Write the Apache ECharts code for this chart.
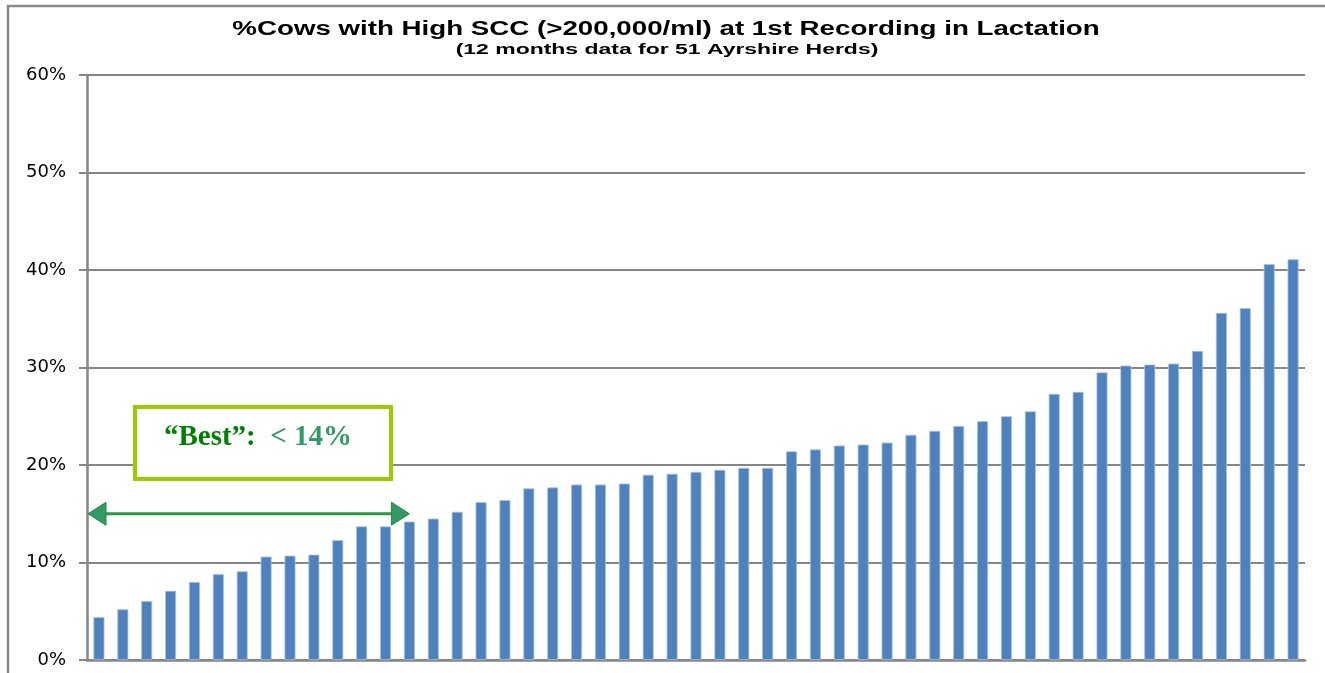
<!DOCTYPE html>
<html>
<head>
<meta charset="utf-8">
<script src="https://cdn.jsdelivr.net/npm/echarts@6/dist/echarts.min.js"></script>
<style>
html,body{margin:0;padding:0;background:#fff;}
#chart{width:1325px;height:673px;}
</style>
</head>
<body>
<div id="chart"></div>
<script>
// ---- data ----
const titleText = '%Cows with High SCC (>200,000/ml) at 1st Recording in Lactation';
const subtitleText = '(12 months data for 51 Ayrshire Herds)';
const herds = Array.from({length: 51}, (_, i) => 'Herd ' + (i + 1));
const highSccPct = [
  4.4, 5.2, 6.05, 7.1, 8.0, 8.8, 9.1, 10.6, 10.7, 10.8,
  12.3, 13.7, 13.7, 14.2, 14.5, 15.2, 16.2, 16.4, 17.6, 17.7,
  18.0, 18.0, 18.1, 19.0, 19.1, 19.3, 19.5, 19.7, 19.7, 21.4,
  21.6, 22.0, 22.1, 22.3, 23.1, 23.5, 24.0, 24.5, 25.0, 25.5,
  27.3, 27.5, 29.5, 30.2, 30.3, 30.4, 31.7, 35.6, 36.1, 40.6,
  41.1
];
const yTicks = [0, 10, 20, 30, 40, 50, 60];
const bestThreshold = 14;
const arrowLevel = 15;
const arrowEndIndex = 13;

const chart = echarts.init(document.getElementById('chart'));
const gridColor = '#868686';

chart.setOption({
  animation: false,
  backgroundColor: '#fff',
  grid: {left: 87, right: 20, top: 75, bottom: 13, containLabel: false},
  xAxis: {
    type: 'category',
    data: herds,
    axisLabel: {show: false},
    axisTick: {show: false},
    axisLine: {lineStyle: {color: gridColor, width: 2.5}}
  },
  yAxis: {
    type: 'value',
    min: yTicks[0],
    max: yTicks[yTicks.length - 1],
    interval: 10,
    axisLine: {show: true, lineStyle: {color: gridColor, width: 2.5}},
    axisTick: {show: true, length: 8, lineStyle: {color: gridColor, width: 2}},
    splitLine: {lineStyle: {color: gridColor, width: 2}},
    axisLabel: {
      formatter: '{value}%',
      margin: 21,
      color: '#000',
      fontFamily: 'DejaVu Sans',
      fontSize: 18
    }
  },
  series: [{
    type: 'bar',
    data: highSccPct,
    barWidth: 11,
    itemStyle: {color: '#4F81BD', borderColor: '#A9C1E0', borderWidth: 0.8}
  }]
});

const yA = chart.convertToPixel({yAxisIndex: 0}, arrowLevel);
const xEnd = chart.convertToPixel({xAxisIndex: 0}, herds[arrowEndIndex]);
const xStart = 88;
const headL = 18, headH = 11.5;

chart.setOption({
  graphic: [
    {type: 'rect', z: -1, silent: true,
     shape: {x: 8, y: 6, width: 1400, height: 800},
     style: {fill: 'none', stroke: '#8a8a8a', lineWidth: 2.5}},
    {type: 'text', x: 666, y: 29, scaleX: 1.385, silent: true,
     style: {text: titleText, font: 'bold 20px "Liberation Sans"', fill: '#000',
             align: 'center', verticalAlign: 'middle'}},
    {type: 'text', x: 667, y: 49.5, scaleX: 1.53, silent: true,
     style: {text: subtitleText, font: 'bold 15px "Liberation Sans"', fill: '#000',
             align: 'center', verticalAlign: 'middle'}},
    {type: 'rect', z: 10, silent: true,
     shape: {x: 135, y: 407, width: 256, height: 72},
     style: {fill: '#fff', stroke: '#99CC00', lineWidth: 4}},
    {type: 'text', z: 11, x: 258, y: 438, silent: true,
     style: {
       text: '{a|\u201cBest\u201d:}  {b|< ' + bestThreshold + '%}',
       font: 'bold 29px "Liberation Serif"',
       align: 'center', verticalAlign: 'middle',
       rich: {
         a: {fill: '#008000', font: 'bold 29px "Liberation Serif"'},
         b: {fill: '#339966', font: 'bold 29px "Liberation Serif"'}
       }
     }},
    {type: 'line', z: 10, silent: true,
     shape: {x1: xStart + 10, y1: yA, x2: xEnd - 10, y2: yA},
     style: {stroke: '#2A9A43', lineWidth: 3}},
    {type: 'polygon', z: 11, silent: true,
     shape: {points: [[xStart, yA], [xStart + headL, yA - headH], [xStart + headL, yA + headH]]},
     style: {fill: '#339966', stroke: '#1F8A3A', lineWidth: 1}},
    {type: 'polygon', z: 11, silent: true,
     shape: {points: [[xEnd, yA], [xEnd - headL, yA - headH], [xEnd - headL, yA + headH]]},
     style: {fill: '#339966', stroke: '#1F8A3A', lineWidth: 1}}
  ]
});
</script>
</body>
</html>
